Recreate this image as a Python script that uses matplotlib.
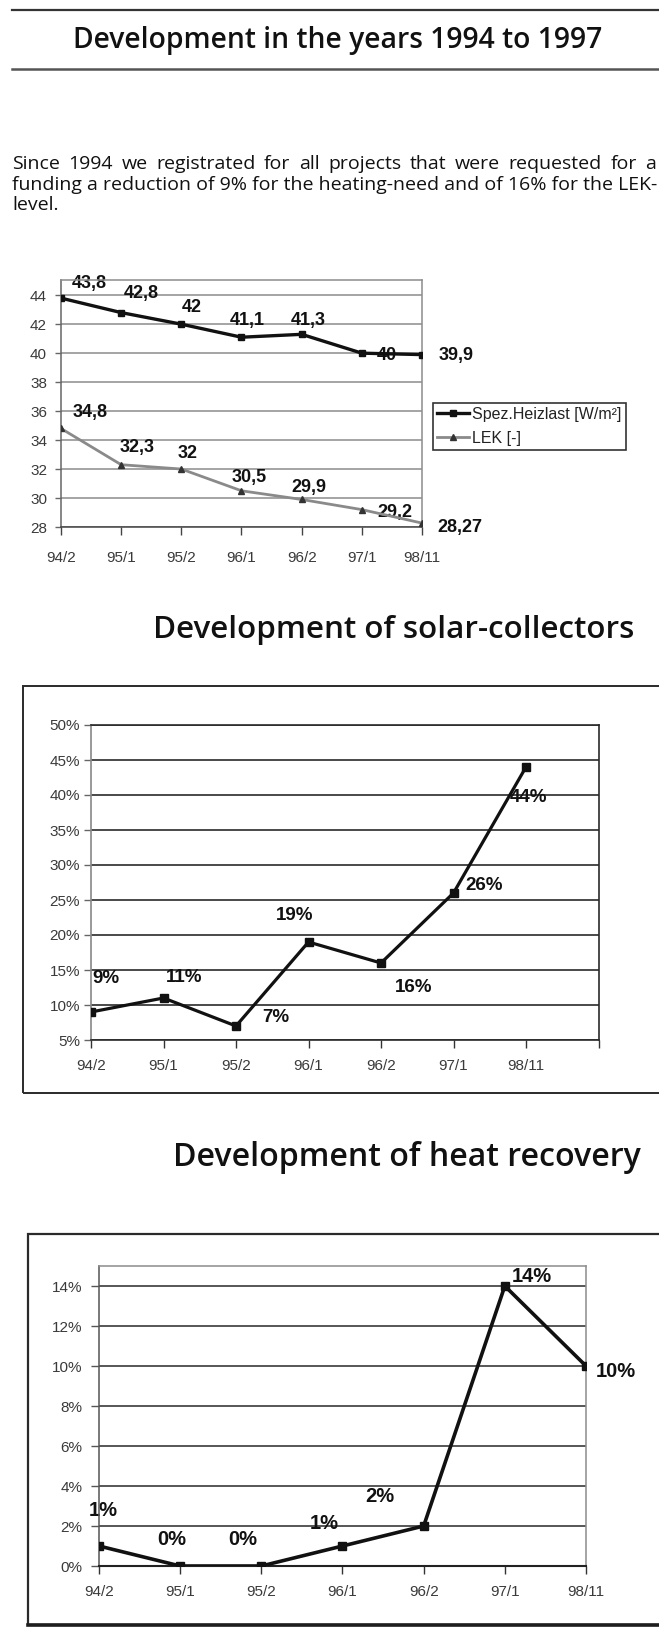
import matplotlib
matplotlib.use('Agg')
import matplotlib.pyplot as plt
from matplotlib.patches import Rectangle
from matplotlib.lines import Line2D
from matplotlib.ticker import PercentFormatter

W, H = 659, 1635

# data
periods = ['94/2', '95/1', '95/2', '96/1', '96/2', '97/1', '98/11']
heizlast = [43.8, 42.8, 42.0, 41.1, 41.3, 40.0, 39.9]
lek = [34.8, 32.3, 32.0, 30.5, 29.9, 29.2, 28.27]
solar_pct = [9, 11, 7, 19, 16, 26, 44]
heat_rec_pct = [1, 0, 0, 1, 2, 14, 10]

page_title = 'Development in the years 1994 to 1997'
solar_title = 'Development of solar-collectors'
heat_title = 'Development of heat recovery'
para_line1 = 'Since 1994 we registrated for all projects that were requested for a'
para_line2 = 'funding a reduction of 9% for the heating-need and of 16% for the LEK-'
para_line3 = 'level.'

# label offsets in pixels (dx, dy up) relative to each point
heizlast_off = [(28, 15), (20, 19), (10, 17), (6, 17), (7, 14), (25, -2), (34, -1)]
lek_off = [(29, 16), (16, 17), (6, 16), (8, 13), (7, 12), (33, -3), (38, -4)]
solar_off = [(15, 34), (21, 21), (40, 9), (-14, 27), (33, -24), (31, 8), (2, -30)]
heat_off = [(4, 36), (-8, 27), (-19, 27), (-18, 23), (-44, 30), (27, 10), (30, -5)]

TITLE_FONT = ['Open Sans', 'DejaVu Sans']
CHART_FONT = ['Liberation Sans', 'DejaVu Sans']
INK = '#111111'

plt.rcParams['font.family'] = CHART_FONT

fig = plt.figure(figsize=(W / 100, H / 100), dpi=100)
fig.patch.set_facecolor('white')
renderer = fig.canvas.get_renderer()


def px_axes(left, top, right, bottom):
    return fig.add_axes([left / W, 1 - bottom / H, (right - left) / W, (bottom - top) / H])


def fit_text(x, y, s, width, **kw):
    t = fig.text(x / W, 1 - y / H, s, fontsize=10, **kw)
    w = t.get_window_extent(renderer).width
    t.set_fontsize(10 * width / w)
    return t


def hline(y, x0, x1, lw=1.5, color='#3a3a3a'):
    fig.add_artist(Line2D([x0 / W, x1 / W], [1 - y / H, 1 - y / H], lw=lw, color=color,
                          transform=fig.transFigure))


def outer_box(left, top, right, bottom, lw=1.4, color='#2a2a2a'):
    fig.add_artist(Rectangle((left / W, 1 - bottom / H), (right - left) / W, (bottom - top) / H,
                             fill=False, lw=lw, edgecolor=color, transform=fig.transFigure))


def label_points(ax, values, offsets, texts, size):
    for i, (v, (dx, dy), s) in enumerate(zip(values, offsets, texts)):
        ax.annotate(s, xy=(i, v), xytext=(dx, dy), textcoords='offset pixels',
                    ha='center', va='center', fontsize=size, fontweight='bold',
                    color=INK, zorder=2.5, annotation_clip=False)


# ---- page header ----
hline(10, 12, 660, lw=1.6, color='#333333')
hline(69, 12, 660, lw=1.8, color='#555555')
fit_text(338, 48, page_title, 530, ha='center', va='baseline', family=TITLE_FONT,
         fontweight='semibold', color=INK)

# paragraph, first line justified
t2 = fit_text(12, 189.5, para_line2, 643, ha='left', va='baseline', family=TITLE_FONT, color=INK)
para_size = t2.get_fontsize()
words = para_line1.split()
widths = []
for w_ in words:
    tt = fig.text(0, 0, w_, fontsize=para_size, family=TITLE_FONT)
    widths.append(tt.get_window_extent(renderer).width)
    tt.remove()
gap = (656 - 12 - sum(widths)) / (len(words) - 1)
x = 12
for w_, wd in zip(words, widths):
    fig.text(x / W, 1 - 169 / H, w_, fontsize=para_size, family=TITLE_FONT, color=INK,
             ha='left', va='baseline')
    x += wd + gap
fig.text(12 / W, 1 - 210 / H, para_line3, fontsize=para_size, family=TITLE_FONT, color=INK,
         ha='left', va='baseline')

# ---- chart 1: heating load and LEK ----
ax1 = px_axes(61, 280, 422, 527)
xs = list(range(len(periods)))
ax1.plot(xs, heizlast, color='#111111', lw=2.4, marker='s', ms=5, zorder=3)
ax1.plot(xs, lek, color='#8a8a8a', lw=2.0, marker='^', ms=5, mfc='#333333', mec='#333333', zorder=3)
ax1.set_xlim(0, 6)
ax1.set_ylim(28, 45.05)
ax1.set_yticks(range(28, 45, 2))
ax1.set_xticks(xs)
ax1.set_xticklabels(periods)
ax1.yaxis.grid(True, color='#8c8c8c', lw=1.1)
ax1.set_axisbelow(True)
for sp in ax1.spines.values():
    sp.set_color('#8c8c8c')
    sp.set_linewidth(1.1)
ax1.spines['left'].set_color('#666666')
ax1.spines['bottom'].set_color('#444444')
ax1.tick_params(axis='y', length=4, width=1, color='#666666', pad=6, labelsize=11, labelcolor='#3a3a3a')
ax1.tick_params(axis='x', length=6, width=1, color='#444444', pad=11, labelsize=11, labelcolor='#3a3a3a')
fmt_de = [f'{v:g}'.replace('.', ',') for v in heizlast]
label_points(ax1, heizlast, heizlast_off, fmt_de, 13)
fmt_de = [f'{v:g}'.replace('.', ',') for v in lek]
label_points(ax1, lek, lek_off, fmt_de, 13)

handles = [Line2D([], [], color='#111111', lw=2.4, marker='s', ms=5),
           Line2D([], [], color='#8a8a8a', lw=2.0, marker='^', ms=5, mfc='#333333', mec='#333333')]
leg = fig.legend(handles, ['Spez.Heizlast [W/m²]', 'LEK [-]'], loc='upper left',
                 bbox_to_anchor=(433 / W, 1 - 403 / H), borderaxespad=0, fancybox=False,
                 edgecolor='#333333', fontsize=11.5, handlelength=2.0, handletextpad=0.2,
                 borderpad=0.25, labelspacing=0.55, framealpha=1)
leg.get_frame().set_linewidth(1.2)
for txt in leg.get_texts():
    txt.set_color('#222222')

# ---- chart 2: solar collectors ----
fit_text(394, 638, solar_title, 482, ha='center', va='baseline', family=TITLE_FONT,
         fontweight='semibold', color=INK)
outer_box(23, 686, 700, 1093)
ax2 = px_axes(91, 725, 598.5, 1040)
ax2.plot(xs, solar_pct, color='#111111', lw=2.3, marker='s', ms=5.5, zorder=3)
ax2.set_xlim(0, 7)
ax2.set_ylim(5, 50)
ax2.set_yticks(range(5, 51, 5))
ax2.yaxis.set_major_formatter(PercentFormatter(xmax=100, decimals=0))
ax2.set_xticks(range(len(periods) + 1))
ax2.set_xticklabels(periods + [''])
ax2.yaxis.grid(True, color='#2a2a2a', lw=1.2)
ax2.set_axisbelow(True)
for sp in ax2.spines.values():
    sp.set_color('#2a2a2a')
    sp.set_linewidth(1.2)
ax2.spines['left'].set_color('#888888')
ax2.tick_params(axis='y', length=5, width=1, color='#666666', pad=3, labelsize=11, labelcolor='#3a3a3a')
ax2.tick_params(axis='x', length=6, width=1, color='#333333', pad=8, labelsize=11, labelcolor='#3a3a3a')
label_points(ax2, solar_pct, solar_off, [f'{v}%' for v in solar_pct], 13.5)

# ---- chart 3: heat recovery ----
fit_text(407, 1166, heat_title, 469, ha='center', va='baseline', family=TITLE_FONT,
         fontweight='semibold', color=INK)
outer_box(28, 1234, 700, 1625, lw=1.6)
hline(1625, 28, 660, lw=2.6, color='#1e1e1e')
ax3 = px_axes(99, 1266, 586, 1566)
ax3.plot(xs, heat_rec_pct, color='#111111', lw=2.6, marker='s', ms=5.5, zorder=3)
ax3.set_xlim(0, 6)
ax3.set_ylim(0, 15)
ax3.set_yticks(range(0, 15, 2))
ax3.yaxis.set_major_formatter(PercentFormatter(xmax=100, decimals=0))
ax3.set_xticks(xs)
ax3.set_xticklabels(periods)
ax3.yaxis.grid(True, color='#3a3a3a', lw=1.2)
ax3.set_axisbelow(True)
for sp in ax3.spines.values():
    sp.set_color('#8c8c8c')
    sp.set_linewidth(1.1)
ax3.spines['left'].set_color('#555555')
ax3.spines['bottom'].set_color('#222222')
ax3.spines['bottom'].set_linewidth(1.5)
ax3.tick_params(axis='y', length=6, width=1, color='#555555', pad=6, labelsize=11, labelcolor='#3a3a3a')
ax3.tick_params(axis='x', length=6, width=1, color='#333333', pad=8, labelsize=11, labelcolor='#3a3a3a')
label_points(ax3, heat_rec_pct, heat_off, [f'{v}%' for v in heat_rec_pct], 14.5)

fig.savefig('out.png', dpi=100, facecolor='white')
